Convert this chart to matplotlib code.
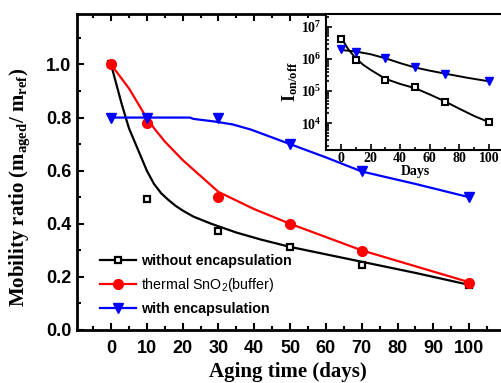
import matplotlib
matplotlib.use("Agg")
import matplotlib.pyplot as plt
from matplotlib.ticker import MultipleLocator, LogLocator, NullFormatter

plt.rcParams['mathtext.default'] = 'regular'

# ---------------- data ----------------
days = [0, 10, 30, 50, 70, 100]
without_enc = [1.0, 0.493, 0.371, 0.311, 0.243, 0.168]
thermal_sno2 = [1.0, 0.78, 0.50, 0.399, 0.298, 0.178]
with_enc = [0.80, 0.80, 0.80, 0.70, 0.597, 0.50]

# fitted curves
fit_x_black = [0, 1, 2, 3, 5, 7.5, 10, 12, 14, 16, 18, 20, 23, 28, 35, 42, 50, 60, 70, 85, 100]
fit_y_black = [1.0, 0.95, 0.90, 0.85, 0.76, 0.68, 0.60, 0.55, 0.515, 0.49, 0.468, 0.45, 0.427,
               0.40, 0.367, 0.34, 0.313, 0.285, 0.257, 0.215, 0.17]
fit_x_red = [0, 5, 9, 12, 15, 20, 25, 30, 40, 50, 60, 70, 85, 100]
fit_y_red = [1.0, 0.91, 0.82, 0.76, 0.71, 0.64, 0.58, 0.52, 0.455, 0.40, 0.35, 0.30, 0.24, 0.18]
fit_x_blue = [0, 22, 23, 29, 34, 39, 50, 60, 70, 85, 100]
fit_y_blue = [0.80, 0.80, 0.795, 0.785, 0.774, 0.755, 0.70, 0.65, 0.597, 0.55, 0.50]

# inset: on/off ratio
inset_days = [0, 10, 30, 50, 70, 100]
onoff_without = [4.1e6, 9.3e5, 2.2e5, 1.3e5, 4.7e4, 1.1e4]
onoff_with = [2.1e6, 1.7e6, 1.07e6, 5.5e5, 3.5e5, 2.05e5]
inset_fit_x_black = [0, 5, 10, 15, 20, 30, 40, 50, 60, 70, 80, 90, 100]
inset_fit_y_black = [4.8e6, 2.0e6, 1.05e6, 6.6e5, 4.6e5, 2.4e5, 1.66e5, 1.23e5, 7.8e4, 4.8e4,
                     2.8e4, 1.66e4, 1.07e4]
inset_fit_x_blue = [0, 10, 20, 30, 40, 50, 60, 70, 85, 100]
inset_fit_y_blue = [1.9e6, 1.7e6, 1.4e6, 1.05e6, 7.4e5, 5.4e5, 4.3e5, 3.5e5, 2.6e5, 2.0e5]

labels = ['without encapsulation', r'thermal SnO$_2$(buffer)', 'with encapsulation']

W, H = 501, 383
fig = plt.figure(figsize=(W / 100, H / 100), dpi=100)

# ---------------- main axes ----------------
ax = fig.add_axes([77 / W, (H - 330) / H, (505 - 77) / W, 316 / H])
ax.plot(fit_x_black, fit_y_black, color='black', lw=1.6, zorder=2)
ax.plot(fit_x_red, fit_y_red, color='red', lw=1.6, zorder=2)
ax.plot(fit_x_blue, fit_y_blue, color='blue', lw=1.6, zorder=2)
ax.plot(days, without_enc, ls='none', marker='s', ms=4.5, mfc='white', mec='black', mew=1.6, zorder=3)
ax.plot(days, thermal_sno2, ls='none', marker='o', ms=7, color='red', zorder=3)
ax.plot(days, with_enc, ls='none', marker='v', ms=7, color='blue', zorder=3)

h1, = ax.plot([], [], color='black', lw=1.6, marker='s', ms=4.5, mfc='white', mec='black', mew=1.6)
h2, = ax.plot([], [], color='red', lw=1.6, marker='o', ms=7)
h3, = ax.plot([], [], color='blue', lw=1.6, marker='v', ms=7)
leg = ax.legend([h1, h2, h3], labels, loc='upper left',
                bbox_to_anchor=(100 / W, (H - 254) / H), bbox_transform=fig.transFigure,
                frameon=False, borderpad=0, borderaxespad=0, handlelength=2.5,
                handletextpad=0.4, labelspacing=0.55,
                prop={'family': 'Liberation Sans', 'size': 10.3})
for t, wgt in zip(leg.get_texts(), ['bold', 'normal', 'bold']):
    t.set_fontweight(wgt)

ax.set_xlim(-9.5, 110)
ax.set_ylim(0, 1.19)
ax.set_xticks(range(0, 101, 10))
ax.xaxis.set_minor_locator(MultipleLocator(5))
ax.set_yticks([0, 0.2, 0.4, 0.6, 0.8, 1.0])
ax.set_yticklabels(['0.0', '0.2', '0.4', '0.6', '0.8', '1.0'])
ax.yaxis.set_minor_locator(MultipleLocator(0.1))
ax.tick_params(which='both', direction='in', top=True, right=False, width=1.5)
ax.tick_params(which='major', length=5)
ax.tick_params(which='minor', length=3)
ax.tick_params(axis='x', which='major', pad=7)
ax.tick_params(axis='y', which='major', pad=4)
for lab in ax.get_xticklabels() + ax.get_yticklabels():
    lab.set_fontfamily('Liberation Sans')
    lab.set_fontweight('bold')
    lab.set_fontsize(13)
for s in ['left', 'bottom', 'top']:
    ax.spines[s].set_linewidth(2)
ax.spines['right'].set_visible(False)

ax.set_xlabel('Aging time (days)', family='Liberation Serif', weight='bold', fontsize=15)
ax.set_ylabel(r'Mobility ratio (m$_{aged}$/ m$_{ref}$)', family='Liberation Serif',
              weight='bold', fontsize=15)
ax.xaxis.set_label_coords(0.493, -0.10)
ax.yaxis.set_label_coords(-0.105, 0.45)

# ---------------- inset ----------------
ax2 = fig.add_axes([326 / W, (H - 150) / H, (504 - 326) / W, 136 / H])
ax2.set_facecolor('white')
ax2.plot(inset_fit_x_black, inset_fit_y_black, color='black', lw=1.4, zorder=2)
ax2.plot(inset_fit_x_blue, inset_fit_y_blue, color='black', lw=1.4, zorder=2)
ax2.plot(inset_days, onoff_without, ls='none', marker='s', ms=4.3, mfc='white', mec='black',
         mew=1.5, zorder=3)
ax2.plot(inset_days, onoff_with, ls='none', marker='v', ms=6, color='blue', zorder=3)
ax2.set_yscale('log')
ax2.set_xlim(-10, 110)
ax2.set_ylim(1.46e3, 2.5e7)
ax2.set_xticks(range(0, 101, 20))
ax2.xaxis.set_minor_locator(MultipleLocator(10))
ax2.set_yticks([1e4, 1e5, 1e6, 1e7])
ax2.yaxis.set_minor_locator(LogLocator(base=10, subs=range(2, 10)))
ax2.yaxis.set_minor_formatter(NullFormatter())
ax2.tick_params(which='both', direction='in', top=False, right=False, width=1.2)
ax2.tick_params(which='major', length=4)
ax2.tick_params(which='minor', length=2)
ax2.tick_params(axis='x', pad=1.5)
ax2.tick_params(axis='y', pad=3)
for lab in ax2.get_xticklabels() + ax2.get_yticklabels():
    lab.set_fontfamily('Liberation Serif')
    lab.set_fontweight('bold')
    lab.set_fontsize(10)
for s in ['left', 'bottom', 'top']:
    ax2.spines[s].set_linewidth(1.5)
ax2.spines['right'].set_visible(False)
ax2.set_xlabel('Days', family='Liberation Serif', weight='bold', fontsize=10, labelpad=0)
ax2.set_ylabel(r'I$_{on/off}$', family='Liberation Serif', weight='bold', fontsize=13,
               labelpad=1)

fig.savefig('out.png', dpi=100)
